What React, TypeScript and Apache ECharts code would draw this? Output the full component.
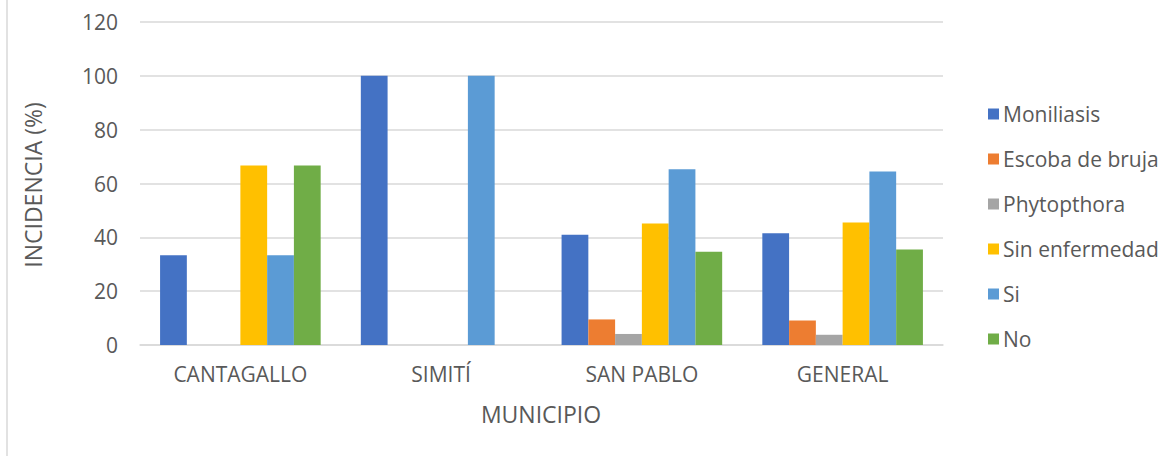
import React, { useEffect, useRef } from "react";
import * as echarts from "echarts";

const categories = ["CANTAGALLO", "SIMITÍ", "SAN PABLO", "GENERAL"];
const seriesNames = ["Moniliasis", "Escoba de bruja", "Phytopthora", "Sin enfermedad", "Si", "No"];
const moniliasis = [33.3, 100, 41.0, 41.5];
const escoba = [0, 0, 9.5, 9.1];
const phytopthora = [0, 0, 4.1, 3.8];
const sinEnfermedad = [66.7, 0, 45.1, 45.5];
const si = [33.3, 100, 65.3, 64.5];
const no = [66.7, 0, 34.6, 35.5];
const colors = ["#4472C4", "#ED7D31", "#A5A5A5", "#FFC000", "#5B9BD5", "#70AD47"];
const yTicks = { min: 0, max: 120, interval: 20 };

const FONT = "Open Sans";
const FS = 21;
const FS_TITLE = 23;
const TXT = "#595959";

export default function App() {
  const ref = useRef<HTMLDivElement>(null);
  useEffect(() => {
    if (!ref.current) return;
    const chart = echarts.init(ref.current, null, { renderer: "svg" });
    const data = [moniliasis, escoba, phytopthora, sinEnfermedad, si, no];
    chart.setOption({
      animation: false,
      backgroundColor: "#ffffff",
      textStyle: { fontFamily: FONT },
      grid: { left: 140, right: 229, top: 22, bottom: 111, containLabel: false },
      legend: {
        orient: "vertical",
        left: 983,
        top: 97,
        itemWidth: 11,
        itemHeight: 11,
        itemGap: 21,
        icon: "rect",
        textStyle: { fontFamily: FONT, fontSize: FS, color: TXT, lineHeight: 24, padding: [0, 0, 0, -1] },
        data: seriesNames,
      },
      xAxis: {
        type: "category",
        data: categories,
        axisLine: { lineStyle: { color: "#D9D9D9", width: 1.5 } },
        axisTick: { show: false },
        axisLabel: { fontFamily: FONT, fontSize: FS, color: TXT, margin: 18 },
      },
      yAxis: {
        type: "value",
        min: yTicks.min,
        max: yTicks.max,
        interval: yTicks.interval,
        axisLine: { show: false },
        axisTick: { show: false },
        splitLine: { lineStyle: { color: "#D9D9D9", width: 1.5 } },
        axisLabel: { fontFamily: FONT, fontSize: FS, color: TXT, margin: 22 },
      },
      graphic: [
        { type: "line", shape: { x1: 7, y1: 0, x2: 7, y2: 456 }, style: { stroke: "#D9D9D9", lineWidth: 1.5 } },
        {
          type: "text",
          x: 33,
          y: 185,
          rotation: Math.PI / 2,
          style: { text: "INCIDENCIA (%)", fontFamily: FONT, fontSize: FS_TITLE, fill: TXT, align: "center", verticalAlign: "middle" },
        },
        {
          type: "text",
          x: 541,
          y: 414,
          style: { text: "MUNICIPIO", fontFamily: FONT, fontSize: FS_TITLE, fill: TXT, align: "center", verticalAlign: "middle" },
        },
      ],
      series: seriesNames.map((name, i) => ({
        name,
        type: "bar",
        data: data[i],
        barGap: "0%",
        barCategoryGap: "20%",
        itemStyle: { color: colors[i] },
      })),
    });
    return () => chart.dispose();
  }, []);
  return <div ref={ref} style={{ position: "absolute", left: 0, top: 0, width: 1172, height: 456 }} />;
}
